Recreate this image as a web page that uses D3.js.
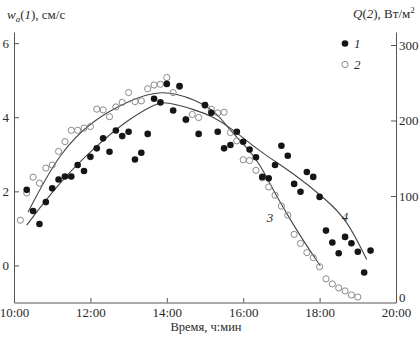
<!DOCTYPE html>
<html>
<head>
<meta charset="utf-8">
<script src="https://cdn.jsdelivr.net/npm/d3@7"></script>
<style>
  html, body { margin: 0; padding: 0; background: #fff; }
  svg { display: block; }
  text { font-family: "Liberation Serif", "Times New Roman", serif; fill: #2a2a2a; }
</style>
</head>
<body>
<div id="chart"></div>
<script>
// ---- Data ----
// Series 1: w_a (cm/s), filled circles, left axis
const wTimes = ["10:20","10:30","10:40","10:50","11:00","11:10","11:20","11:30","11:40","11:50",
  "12:00","12:10","12:20","12:30","12:40","12:50","13:00","13:10","13:20","13:30","13:40","13:50",
  "14:00","14:10","14:20","14:30","14:50","15:00","15:10","15:20","15:30","15:40","15:50",
  "16:00","16:10","16:20","16:30","16:40","16:50","17:00","17:10","17:20","17:30","17:40","17:50",
  "18:00","18:10","18:20","18:30","18:40","18:50","19:00","19:10","19:20"];
const wValues = [2.04,1.47,1.12,1.71,2.08,2.32,2.40,2.40,2.71,2.55,
  2.93,3.16,3.43,3.07,3.64,3.49,3.61,2.86,3.04,3.55,4.50,4.40,
  4.90,4.18,4.84,3.94,3.55,4.33,4.12,3.61,3.16,3.25,3.61,
  3.34,3.13,2.92,2.39,2.35,2.71,3.23,2.96,2.20,1.99,2.52,2.39,
  1.85,0.94,0.62,0.33,0.77,0.60,0.37,-0.19,0.40];

// Series 2: Q (W/m2), open circles, right axis
const qTimes = ["10:10","10:20","10:30","10:40","10:50","11:00","11:10","11:20","11:30","11:40","11:50",
  "12:00","12:10","12:20","12:30","12:40","12:50","13:00","13:10","13:20","13:30","13:40","13:50",
  "14:00","14:10","14:20","14:30","14:40","14:50","15:00","15:10","15:20","15:30","15:40","15:50",
  "16:00","16:10","16:20","16:30","16:40","16:50","17:00","17:10","17:20","17:30","17:40","17:50",
  "18:00","18:10","18:20","18:30","18:40","18:50","19:00"];
const qValues = [76,104,125,117,137,141,159,172,187,187,190,
  192,215,214,205,218,224,237,225,226,242,247,248,
  257,237,245,201,208,204,220,215,210,211,184,173,
  148,147,134,124,112,101,90,81,62,53,44,39,
  30,18,13,9,6,2,0];

// Curve 3: fit of Q (right axis)
const fit3Times = ["10:22","11:12","12:05","12:57","13:52","14:47","15:19","15:39","16:05","16:26","16:47","17:08","17:34","18:01"];
const fit3Values = [84,159,201,225,242,227,210,187,165,143,108,83,56,31];

// Curve 4: fit of w_a (left axis)
const fit4Times = ["10:20","11:12","12:05","12:57","13:44","13:57","14:47","15:13","15:39","16:26","17:19","18:11","18:43","19:14"];
const fit4Values = [1.09,2.26,3.16,3.92,4.38,4.42,4.19,4.01,3.74,3.07,2.49,1.77,1.23,0.16];

const xTicks = ["10:00","12:00","14:00","16:00","18:00","20:00"];
const leftTicks = [0, 2, 4, 6];
const rightTicks = [0, 100, 200, 300];

// ---- Helpers ----
const toH = s => { const [h, m] = s.split(":").map(Number); return h + m / 60; };

const W = 420, H = 339;
const svg = d3.select("#chart").append("svg").attr("width", W).attr("height", H);

const x = d3.scaleLinear().domain([10, 20]).range([14, 396]);
const yL = d3.scaleLinear().domain([-1, 6.3]).range([302.5, 32]);
const yR = d3.scaleLinear().domain([-5, 0, 100, 200, 300, 317]).range([302.5, 297, 196, 120.5, 45, 32]);

const axisColor = "#555";

// Bottom axis
const gx = svg.append("g").attr("transform", `translate(0,${yL.range()[0]})`)
  .call(d3.axisBottom(x).tickValues(xTicks.map(toH)).tickFormat((d, i) => xTicks[i])
    .tickSizeInner(-4.5).tickSizeOuter(0).tickPadding(5));
// Left axis
const gl = svg.append("g").attr("transform", `translate(${x.range()[0]},0)`)
  .call(d3.axisLeft(yL).tickValues(leftTicks).tickFormat(d3.format("d"))
    .tickSizeInner(-5).tickSizeOuter(0).tickPadding(5));
// Right axis
const gr = svg.append("g").attr("transform", `translate(${x.range()[1]},0)`)
  .call(d3.axisRight(yR).tickValues(rightTicks).tickFormat(d3.format("d"))
    .tickSizeInner(-5).tickSizeOuter(0).tickPadding(3));
gr.selectAll(".tick").filter(d => d === 0).select("line").remove();

[gx, gl, gr].forEach(g => {
  g.attr("font-family", null).attr("font-size", null);
  g.select(".domain").attr("stroke", axisColor).attr("stroke-width", 1);
  g.selectAll(".tick line").attr("stroke", axisColor).attr("stroke-width", 1);
  g.selectAll("text").attr("font-size", 13).attr("fill", "#2a2a2a");
});

// Fit curves
const line4 = d3.line().x((d, i) => x(toH(fit4Times[i]))).y(d => yL(d)).curve(d3.curveBasis);
const line3 = d3.line().x((d, i) => x(toH(fit3Times[i]))).y(d => yR(d)).curve(d3.curveBasis);
svg.append("path").attr("d", line3(fit3Values)).attr("fill", "none").attr("stroke", "#444").attr("stroke-width", 1.1);
svg.append("path").attr("d", line4(fit4Values)).attr("fill", "none").attr("stroke", "#444").attr("stroke-width", 1.1);

// Open circles (Q)
svg.append("g").selectAll("circle").data(qValues).join("circle")
  .attr("cx", (d, i) => x(toH(qTimes[i]))).attr("cy", d => yR(d)).attr("r", 3.1)
  .attr("fill", "none").attr("stroke", "#8a8a8a").attr("stroke-width", 1);

// Filled circles (w)
svg.append("g").selectAll("circle").data(wValues).join("circle")
  .attr("cx", (d, i) => x(toH(wTimes[i]))).attr("cy", d => yL(d)).attr("r", 3.3)
  .attr("fill", "#151515");

// Axis titles
const tl = svg.append("text").attr("x", 7).attr("y", 19).attr("font-size", 13);
tl.append("tspan").attr("font-style", "italic").text("w");
tl.append("tspan").attr("font-style", "italic").attr("font-size", 9).attr("dy", 3).text("a");
tl.append("tspan").attr("dy", -3).text("(");
tl.append("tspan").attr("font-style", "italic").text("1");
tl.append("tspan").text("), см/с");

const tr = svg.append("text").attr("x", 353).attr("y", 18).attr("font-size", 13);
tr.append("tspan").attr("font-style", "italic").text("Q");
tr.append("tspan").text("(");
tr.append("tspan").attr("font-style", "italic").text("2");
tr.append("tspan").text("), Вт/м");
tr.append("tspan").attr("font-size", 9).attr("dy", -5).text("2");

svg.append("text").attr("x", 206).attr("y", 331).attr("text-anchor", "middle")
  .attr("font-size", 12.5).text("Время, ч:мин");

// Legend
svg.append("circle").attr("cx", 345).attr("cy", 43.5).attr("r", 3.3).attr("fill", "#151515");
svg.append("text").attr("x", 354).attr("y", 48).attr("font-size", 13).attr("font-style", "italic").text("1");
svg.append("circle").attr("cx", 345).attr("cy", 64.5).attr("r", 3.1).attr("fill", "none").attr("stroke", "#8a8a8a");
svg.append("text").attr("x", 354).attr("y", 69).attr("font-size", 13).attr("font-style", "italic").text("2");

// Curve labels
svg.append("text").attr("x", 270).attr("y", 221.5).attr("text-anchor", "middle").attr("font-size", 13).attr("font-style", "italic").text("3");
svg.append("text").attr("x", 345).attr("y", 220.5).attr("text-anchor", "middle").attr("font-size", 13).attr("font-style", "italic").text("4");
</script>
</body>
</html>
